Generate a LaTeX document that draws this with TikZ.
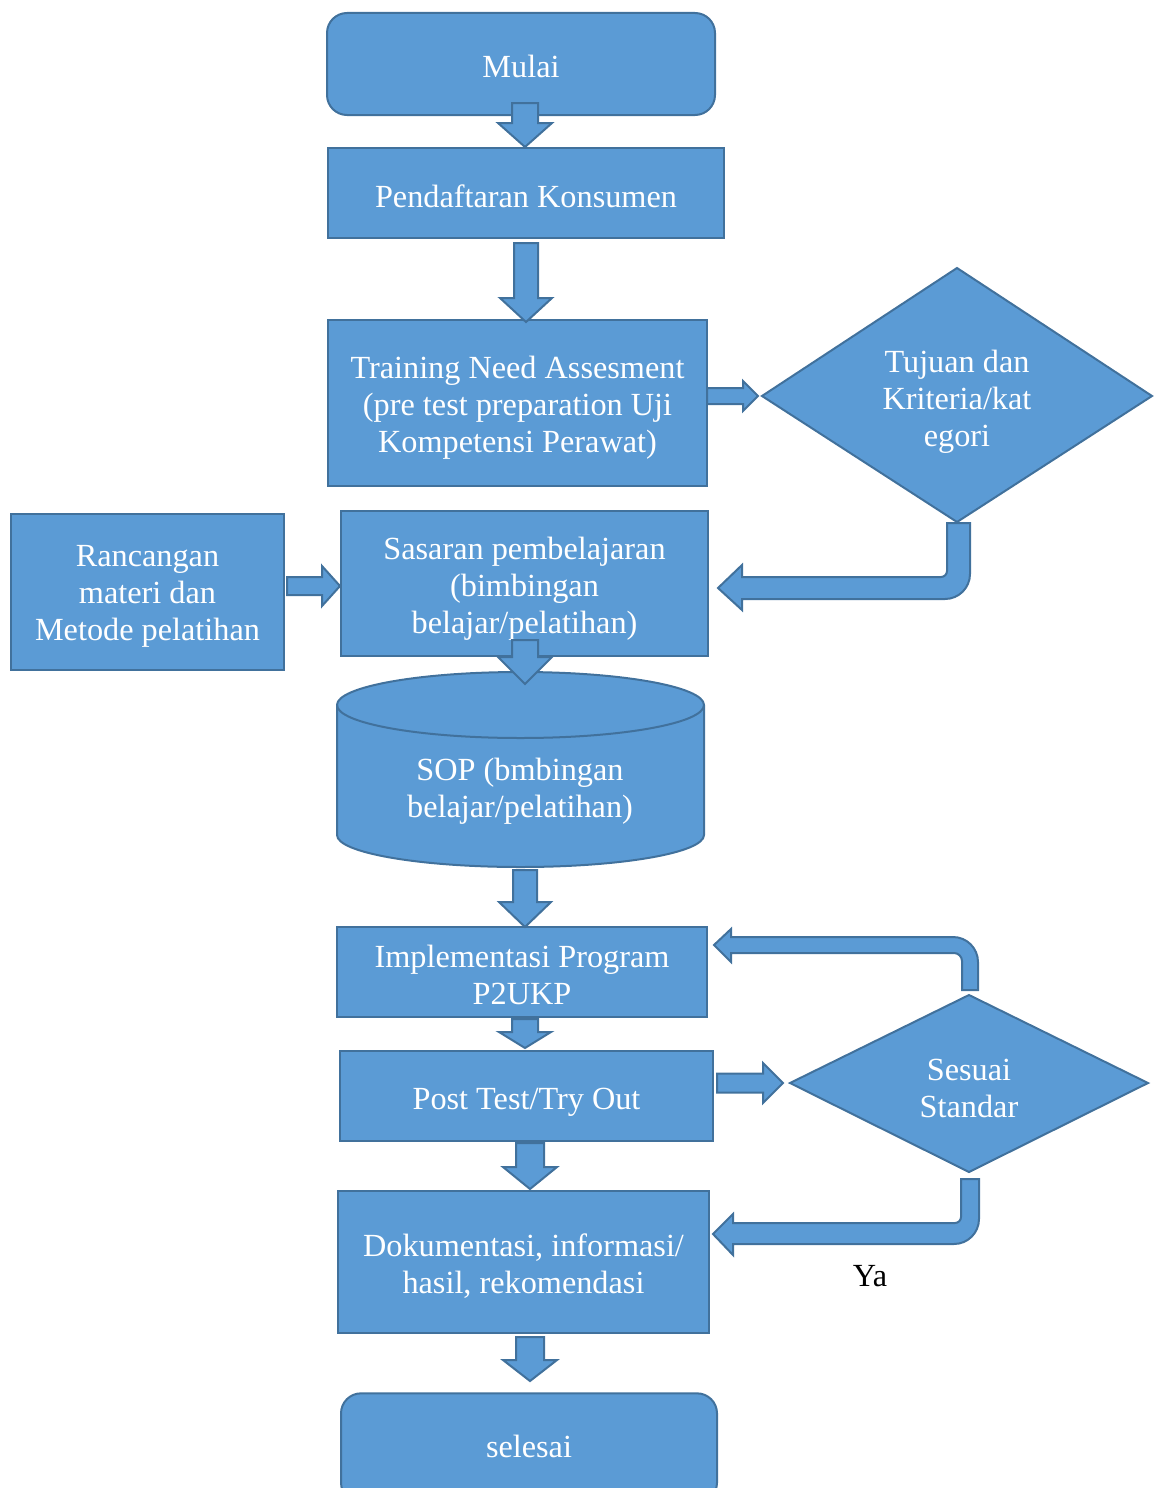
\documentclass[tikz,border=0pt]{standalone}
\usepackage{fontspec}
\setmainfont{Liberation Serif}
\definecolor{boxfill}{RGB}{91,155,213}
\definecolor{boxline}{RGB}{65,113,156}
\tikzset{
  box/.style={draw=boxline, fill=boxfill, line width=1.5pt, inner sep=0pt},
  txt/.style={text=white, align=center, inner sep=0pt, yshift=-2.8pt, font=\fontsize{24.2}{27.75}\selectfont},
  barrow/.style={draw=boxline, fill=boxfill, line width=1.5pt, line join=miter}
}
% vertical block arrow: cx, ytop, yhead, ytip, half shaft, half head
\newcommand\vbarrow[6]{%
  \draw[barrow] ({#1-#5},#2) -- ({#1+#5},#2) -- ({#1+#5},#3) -- ({#1+#6},#3) -- (#1,#4) -- ({#1-#6},#3) -- ({#1-#5},#3) -- cycle;}
% horizontal block arrow: cy, xstart, xhead, xtip, half shaft, half head
\newcommand\hbarrow[6]{%
  \draw[barrow] (#2,{#1-#5}) -- (#3,{#1-#5}) -- (#3,{#1-#6}) -- (#4,#1) -- (#3,{#1+#6}) -- (#3,{#1+#5}) -- (#2,{#1+#5}) -- cycle;}
\begin{document}
\begin{tikzpicture}[x=0.75pt,y=-0.75pt]
\useasboundingbox (0,0) rectangle (1155,1488);
\clip (0,0) rectangle (1155,1488);

% boxes
\node[box, rounded corners=15pt, minimum width=291pt, minimum height=76.5pt] (mulai) at (521,64) {};
\node[txt] at (521,63) {Mulai};
\node[box, minimum width=297pt, minimum height=67.5pt] (daftar) at (526,193) {};
\node[txt] at (daftar) {Pendaftaran Konsumen};
\node[box, minimum width=284.25pt, minimum height=124.5pt] (tna) at (517.5,403) {};
\node[txt] at (517.5,404) {Training Need Assesment\\(pre test preparation Uji\\Kompetensi Perawat)};

% diamond 1
\draw[box] (762,396) coordinate (d1w) -- (957,268) coordinate (d1n) -- (1152,396) coordinate (d1e) -- (957,522) coordinate (d1s) -- cycle;
\node[txt] (tujuan) at (957,398) {Tujuan dan\\Kriteria/kat\\egori};

\node[box, minimum width=275.25pt, minimum height=108.75pt] (sasaran) at (524.5,583.5) {};
\node[txt] at (524.5,585) {Sasaran pembelajaran\\(bimbingan\\belajar/pelatihan)};
\node[box, minimum width=204.75pt, minimum height=117pt] (rancang) at (147.5,592) {};
\node[txt] at (147.5,593) {Rancangan\\materi dan\\Metode pelatihan};

% cylinder
\draw[box] (337,705) -- (337,835) arc[start angle=180, end angle=0, x radius=183.5, y radius=32]
  -- (704,705) arc[start angle=0, end angle=-180, x radius=183.5, y radius=33] -- cycle;
\draw[box, fill=none] (337,705) arc[start angle=180, end angle=0, x radius=183.5, y radius=33];
\node[txt] (sop) at (520,787) {SOP (bmbingan\\belajar/pelatihan)};

\node[box, minimum width=277.5pt, minimum height=67.5pt] (impl) at (522,972) {};
\node[txt] at (522,971) {Implementasi Program\\P2UKP};
\node[box, minimum width=279.75pt, minimum height=67.5pt] (post) at (526.5,1096) {};
\node[txt] at (526.5,1099) {Post Test/Try Out};

% diamond 2
\draw[box] (790,1083) coordinate (d2w) -- (969,995) coordinate (d2n) -- (1148,1083) coordinate (d2e) -- (969,1172) coordinate (d2s) -- cycle;
\node[txt] (sesuai) at (969,1085) {Sesuai\\Standar};

\node[box, minimum width=278.25pt, minimum height=106.5pt] (dok) at (523.5,1262) {};
\node[txt] at (523.5,1262) {Dokumentasi, informasi/\\hasil, rekomendasi};
\node[box, rounded corners=15pt, minimum width=282pt, minimum height=82pt] (selesai) at (529,1448) {};
\node[txt] at (529,1443) {selesai};

\node[text=black, inner sep=0pt, yshift=-1pt, font=\fontsize{24.2}{27.75}\selectfont] (ya) at (870,1275) {Ya};

% vertical block arrows
\vbarrow{525}{103}{123}{147}{13}{27}
\vbarrow{526}{243}{298}{322}{12}{26}
\vbarrow{525}{640}{657}{684}{13}{27}
\vbarrow{525}{870}{902}{927}{12}{26}
\vbarrow{525}{1019}{1032}{1048}{13}{26}
\vbarrow{530}{1143}{1167}{1189}{14}{27}
\vbarrow{530}{1337}{1360}{1381}{14}{27}

% horizontal block arrows
\hbarrow{396}{707}{743}{758}{8}{15}
\hbarrow{586}{287}{322}{340}{9}{20}
\hbarrow{1083}{717}{763}{783}{9.5}{20}

% bent arrow: diamond 1 -> sasaran
\draw[barrow] (947,523) -- (970,523) -- (970,574) arc[start angle=0, end angle=90, radius=25]
  -- (742,599) -- (742,610) -- (718,588) -- (742,565) -- (742,577)
  -- (941,577) arc[start angle=90, end angle=0, radius=6] -- cycle;

% bent arrow: diamond 2 top -> implementasi
\draw[barrow] (962,990) -- (978,990) -- (978,962) arc[start angle=0, end angle=-90, radius=25]
  -- (731,937) -- (731,929) -- (714,945) -- (731,962) -- (731,953)
  -- (954,953) arc[start angle=-90, end angle=0, radius=8] -- cycle;

% bent arrow: diamond 2 bottom -> dokumentasi
\draw[barrow] (961,1179) -- (979,1179) -- (979,1219) arc[start angle=0, end angle=90, radius=25]
  -- (733,1244) -- (733,1255) -- (713,1234) -- (733,1214) -- (733,1223)
  -- (955,1223) arc[start angle=90, end angle=0, radius=6] -- cycle;
\end{tikzpicture}
\end{document}
